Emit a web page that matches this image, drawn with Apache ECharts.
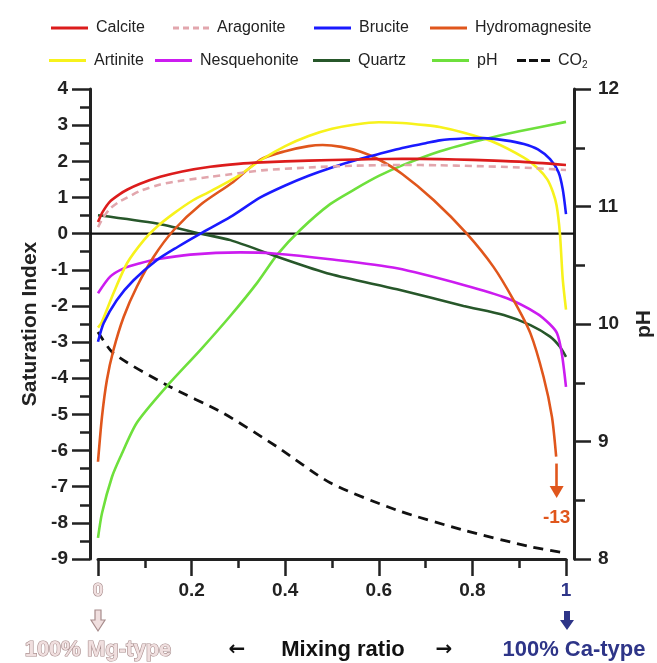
<!DOCTYPE html>
<html><head><meta charset="utf-8">
<script src="https://cdn.jsdelivr.net/npm/echarts@6/dist/echarts.min.js"></script>
<style>html,body{margin:0;padding:0;background:#fff}#c{width:657px;height:663px}</style>
</head><body><div id="c"></div>
<script>
// ---------------- DATA ----------------
const calcite = [[0,0.32],[0.01,0.6],[0.025,0.88],[0.045,1.08],[0.063,1.22],[0.09,1.38],[0.133,1.57],[0.18,1.72],[0.24,1.85],[0.3,1.93],[0.35,1.97],[0.45,2.02],[0.55,2.05],[0.65,2.07],[0.73,2.06],[0.8,2.04],[0.9,1.99],[1.0,1.9]];
const aragonite = [[0,0.18],[0.01,0.42],[0.025,0.68],[0.045,0.88],[0.063,1.0],[0.09,1.18],[0.133,1.36],[0.18,1.47],[0.24,1.57],[0.3,1.67],[0.35,1.75],[0.45,1.83],[0.55,1.88],[0.65,1.9],[0.73,1.89],[0.8,1.87],[0.9,1.83],[1.0,1.76]];
const brucite = [[0,-2.99],[0.012,-2.48],[0.04,-1.84],[0.076,-1.29],[0.126,-0.73],[0.17,-0.37],[0.219,0],[0.283,0.46],[0.347,1.0],[0.4,1.33],[0.45,1.6],[0.5,1.83],[0.55,2.03],[0.6,2.2],[0.65,2.37],[0.7,2.5],[0.73,2.58],[0.78,2.63],[0.823,2.64],[0.87,2.58],[0.91,2.48],[0.94,2.33],[0.966,2.06],[0.984,1.7],[0.993,1.23],[1.0,0.54]];
const hydromagnesite = [[0,-6.31],[0.0085,-5.07],[0.019,-4.05],[0.033,-3.22],[0.055,-2.3],[0.083,-1.47],[0.119,-0.64],[0.162,0.1],[0.219,0.8],[0.289,1.43],[0.347,2.05],[0.4,2.28],[0.45,2.42],[0.48,2.45],[0.52,2.4],[0.56,2.27],[0.6,2.05],[0.65,1.65],[0.717,0.93],[0.788,0],[0.845,-0.92],[0.888,-1.84],[0.924,-2.76],[0.952,-3.96],[0.97,-5.07],[0.979,-6.17]];
const hmArrowFrom = [0.98,-6.36];
const hmArrowTo = [0.98,-7.15];
const hmArrowLabel = '-13';
const artinite = [[0,-2.6],[0.008,-2.45],[0.033,-1.65],[0.062,-0.82],[0.098,-0.18],[0.126,0.19],[0.162,0.56],[0.204,0.93],[0.24,1.17],[0.3,1.6],[0.35,2.05],[0.4,2.42],[0.45,2.7],[0.5,2.9],[0.55,3.02],[0.6,3.08],[0.65,3.06],[0.7,3.0],[0.73,2.95],[0.78,2.8],[0.84,2.56],[0.91,2.1],[0.94,1.8],[0.96,1.5],[0.972,1.15],[0.98,0.77],[0.987,0],[0.993,-1.25],[1.0,-2.1]];
const nesquehonite = [[0,-1.65],[0.026,-1.19],[0.055,-0.96],[0.09,-0.82],[0.126,-0.71],[0.197,-0.58],[0.304,-0.52],[0.375,-0.55],[0.496,-0.71],[0.639,-0.96],[0.781,-1.42],[0.874,-1.79],[0.938,-2.21],[0.965,-2.5],[0.981,-2.76],[0.991,-3.31],[1.0,-4.24]];
const quartz = [[0,0.51],[0.126,0.28],[0.219,0],[0.283,-0.18],[0.383,-0.64],[0.496,-1.12],[0.639,-1.54],[0.781,-2.0],[0.867,-2.25],[0.924,-2.53],[0.966,-2.85],[0.987,-3.13],[1.0,-3.41]];
const pH = [[0,8.18],[0.0085,8.39],[0.03,8.7],[0.048,8.87],[0.083,9.16],[0.147,9.47],[0.219,9.78],[0.283,10.07],[0.34,10.35],[0.383,10.59],[0.432,10.8],[0.496,11.02],[0.55,11.15],[0.6,11.26],[0.65,11.35],[0.731,11.47],[0.823,11.57],[0.9,11.64],[1.0,11.72]];
const co2 = [[0,-2.72],[0.033,-3.31],[0.147,-4.19],[0.268,-4.97],[0.383,-5.9],[0.496,-6.89],[0.639,-7.65],[0.781,-8.2],[0.924,-8.66],[1.0,-8.84]];
const zeroLine = [[0,0],[1,0]];

const xRange = [0, 1], xStep = 0.2;
const siRange = [-9, 4], siStep = 1;
const phRange = [8, 12], phStep = 1;

const names = ['Calcite','Aragonite','Brucite','Hydromagnesite','Artinite','Nesquehonite','Quartz','pH','CO2'];
const colors = {Calcite:'#dc1c1c', Aragonite:'#e2a6ad', Brucite:'#1a1aff', Hydromagnesite:'#e0561c', Artinite:'#f7f21c', Nesquehonite:'#cc1cf0', Quartz:'#27572a', pH:'#6ee03c', CO2:'#111111'};

const axisNameX = 'Mixing ratio';
const axisNameY = 'Saturation Index';
const axisNameY2 = 'pH';
const leftNote = '100% Mg-type';
const rightNote = '100% Ca-type';

// ---------------- CHART ----------------
const FONT = '"Liberation Sans", Arial, Helvetica, sans-serif';
const PINK_FILL = '#f0dfdf', PINK_STROKE = '#a78c8c', BLUE = '#2e3588';
const chart = echarts.init(document.getElementById('c'), null, {renderer:'canvas'});

function ln(name, data, extra) {
  return Object.assign({
    type:'line', name, data, symbol:'none', smooth:0.25, xAxisIndex:0, yAxisIndex:0,
    lineStyle:{color:colors[name], width:2.6}, itemStyle:{color:colors[name]}, z:3, silent:true
  }, extra || {});
}

const axisCommon = {
  axisLine:{show:true, onZero:false, lineStyle:{color:'#222', width:3}},
  axisTick:{show:true, inside:false, length:18, lineStyle:{color:'#222', width:2.5}},
  minorTick:{show:true, splitNumber:2, length:10, lineStyle:{color:'#222', width:2.5}},
  splitLine:{show:false}, minorSplitLine:{show:false},
};

const ICON_SOLID = 'rect';
const ICON_DASH_PINK = 'path://M0,0h6v3h-6z M10,0h6v3h-6z M20,0h6v3h-6z M30,0h6v3h-6z';
const ICON_DASH_BLACK = 'path://M0,0h9v3h-9z M12,0h9v3h-9z M24,0h9v3h-9z';
const legendPos = [
  [51,20],[173,20],[314,20],[430,20],
  [49,52.5],[155,52.5],[313,52.5],[432,52.5],[517,52.5]
];
const legends = names.map((n,i)=>({
  data:[n], left:legendPos[i][0], top:legendPos[i][1], padding:0,
  itemWidth: n==='CO2' ? 33 : (n==='Aragonite' ? 36 : 37), itemHeight:3,
  icon: n==='CO2' ? ICON_DASH_BLACK : (n==='Aragonite' ? ICON_DASH_PINK : ICON_SOLID),
  selectedMode:false,
  textStyle:{fontFamily:FONT, fontSize:16, color:'#222', padding:[0,0,0,3],
    rich:{s:{fontFamily:FONT, fontSize:10, color:'#222', verticalAlign:'bottom', padding:[10,0,0,0]}, n:{fontFamily:FONT, fontSize:16, color:'#222'}}},
  formatter: n==='CO2' ? ()=>'{n|CO}{s|2}' : undefined
}));

const option = {
  backgroundColor:'#fff',
  animation:false,
  legend: legends,
  grid:[
    {left:98, right:91, top:89, bottom:104, containLabel:false, outerBoundsMode:'none'},
    {left:90, right:83, top:89, bottom:104, containLabel:false, outerBoundsMode:'none'}
  ],
  xAxis:[
    Object.assign({}, axisCommon, {
      type:'value', gridIndex:0, position:'bottom', min:xRange[0], max:xRange[1], interval:xStep,
      axisTick:{show:true, length:17, lineStyle:{color:'#222', width:2.5}},
      minorTick:{show:true, splitNumber:2, length:9, lineStyle:{color:'#222', width:2.5}},
      axisLabel:{margin:22, fontFamily:FONT, fontSize:19, fontWeight:'bold', color:'#222',
        formatter:v=> v===0 ? '{mg|0}' : (v===1 ? '{ca|1}' : '{n|'+v+'}'),
        rich:{
          n:{fontFamily:FONT, fontSize:19, fontWeight:'bold', color:'#222'},
          mg:{fontFamily:FONT, fontSize:19, fontWeight:'bold', color:PINK_FILL, textBorderColor:PINK_STROKE, textBorderWidth:1.2},
          ca:{fontFamily:FONT, fontSize:19, fontWeight:'bold', color:BLUE}
        }}
    }),
    {type:'value', gridIndex:1, min:0, max:1, show:false}
  ],
  yAxis:[
    Object.assign({}, axisCommon, {
      type:'value', gridIndex:0, position:'left', offset:8, min:siRange[0], max:siRange[1], interval:siStep,
      axisLabel:{margin:22, fontFamily:FONT, fontSize:19, fontWeight:'bold', color:'#222'},
      name:axisNameY, nameLocation:'middle', nameGap:48, nameRotate:90,
      nameTextStyle:{fontFamily:FONT, fontSize:21, fontWeight:'bold', color:'#222'}
    }),
    Object.assign({}, axisCommon, {
      type:'value', gridIndex:0, position:'right', offset:8, min:phRange[0], max:phRange[1], interval:phStep,
      axisTick:{show:true, length:17, lineStyle:{color:'#222', width:2.5}},
      minorTick:{show:true, splitNumber:2, length:11, lineStyle:{color:'#222', width:2.5}},
      axisLabel:{margin:24, fontFamily:FONT, fontSize:19, fontWeight:'bold', color:'#222'},
      name:axisNameY2, nameLocation:'middle', nameGap:60, nameRotate:90,
      nameTextStyle:{fontFamily:FONT, fontSize:21, fontWeight:'bold', color:'#222'}
    }),
    {type:'value', gridIndex:1, min:siRange[0], max:siRange[1], show:false}
  ],
  series:[
    {type:'line', name:'zero', data:zeroLine, xAxisIndex:1, yAxisIndex:2, symbol:'none', silent:true,
      lineStyle:{color:'#111', width:2.2}, z:1},
    ln('CO2', co2, {lineStyle:{color:colors.CO2, width:2.8, type:[10,7]}}),
    ln('pH', pH, {yAxisIndex:1}),
    ln('Quartz', quartz),
    ln('Nesquehonite', nesquehonite),
    ln('Hydromagnesite', hydromagnesite, {
      markLine:{silent:true, symbol:['none','triangle'], symbolSize:[14,12],
        lineStyle:{color:colors.Hydromagnesite, width:2.6, type:'solid'},
        label:{show:true, position:'end', formatter:hmArrowLabel, distance:16, color:colors.Hydromagnesite,
          fontFamily:FONT, fontSize:19, fontWeight:'bold'},
        emphasis:{disabled:true},
        data:[[{coord:hmArrowFrom},{coord:hmArrowTo}]]}
    }),
    ln('Artinite', artinite),
    ln('Brucite', brucite),
    ln('Aragonite', aragonite, {lineStyle:{color:colors.Aragonite, width:2.6, type:[7,5]}}),
    ln('Calcite', calcite),
  ],
  graphic:[
    {type:'polygon', shape:{points:[[95,610],[101,610],[101,620],[105,620],[98,631],[91,620],[95,620]]},
      style:{fill:PINK_FILL, stroke:PINK_STROKE, lineWidth:1.2}},
    {type:'polygon', shape:{points:[[564,611],[570,611],[570,620],[574,620],[567,630],[560,620],[564,620]]},
      style:{fill:BLUE}},
    {type:'text', x:98, y:650, style:{text:leftNote, textAlign:'center', textVerticalAlign:'middle',
      font:'bold 22px '+FONT, fill:PINK_FILL, stroke:PINK_STROKE, lineWidth:1.2}},
    {type:'text', x:343, y:650, style:{text:axisNameX, textAlign:'center', textVerticalAlign:'middle',
      font:'bold 22px '+FONT, fill:'#111'}},
    {type:'text', x:237, y:650, style:{text:'\u2190', textAlign:'center', textVerticalAlign:'middle',
      font:'bold 20px "DejaVu Sans", sans-serif', fill:'#111'}},
    {type:'text', x:444, y:650, style:{text:'\u2192', textAlign:'center', textVerticalAlign:'middle',
      font:'bold 20px "DejaVu Sans", sans-serif', fill:'#111'}},
    {type:'text', x:574, y:650, style:{text:rightNote, textAlign:'center', textVerticalAlign:'middle',
      font:'bold 22px '+FONT, fill:BLUE}}
  ]
};
chart.setOption(option);
</script></body></html>
